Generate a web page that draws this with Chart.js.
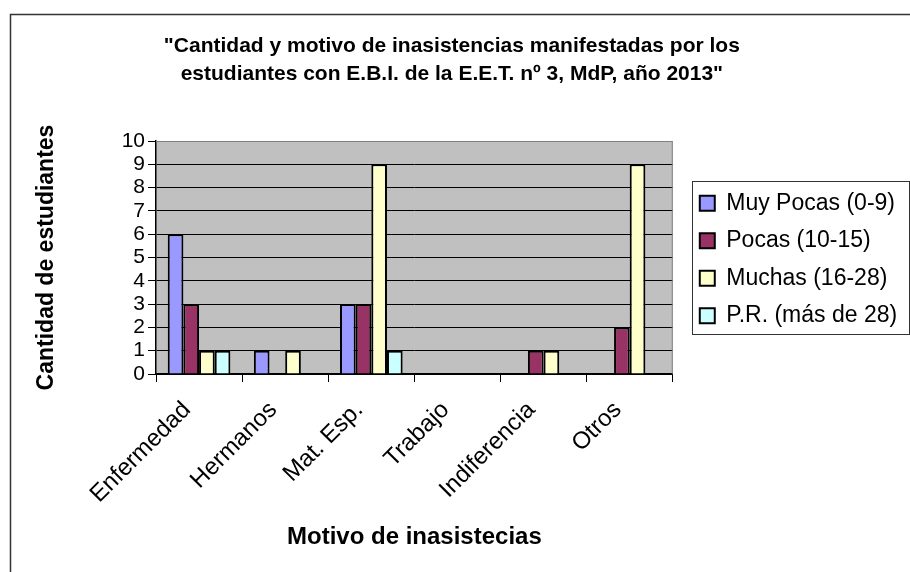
<!DOCTYPE html>
<html>
<head>
<meta charset="utf-8">
<script src="https://cdn.jsdelivr.net/npm/chart.js@4.4.1/dist/chart.umd.min.js"></script>
<style>
  body { margin: 0; background: #fff; }
  canvas { display: block; }
</style>
</head>
<body>
<canvas id="bar-chart" width="910" height="572"></canvas>
<script>
// Motivos (categorias del eje X)
const motivos = ['Enfermedad', 'Hermanos', 'Mat. Esp.', 'Trabajo', 'Indiferencia', 'Otros'];

// Cantidad de estudiantes por grupo de inasistencias
const muyPocas = [6, 1, 3, 0, 0, 0];
const pocas = [3, 0, 3, 0, 1, 2];
const muchas = [1, 1, 9, 0, 1, 9];
const pr = [1, 0, 1, 0, 0, 0];

const seriesNames = ['Muy Pocas (0-9)', 'Pocas (10-15)', 'Muchas (16-28)', 'P.R. (más de 28)'];
const seriesColors = ['#9999FF', '#993366', '#FFFFCC', '#CCFFFF'];

const chartTitle = ['"Cantidad y motivo de inasistencias manifestadas por los', 'estudiantes con E.B.I. de la E.E.T. nº 3, MdP, año 2013"'];
const yTitle = 'Cantidad de estudiantes';
const xTitle = 'Motivo de inasistecias';

const fontFamily = '"Liberation Sans", Arial, sans-serif';
const legendPad = 14.5;
const legendShift = 12.5;

// Fondo gris del area de trazado, borde del grafico y recuadro de la leyenda
const excelLook = {
    id: 'excelLook',
    beforeDraw(chart) {
        const ctx = chart.ctx;
        const a = chart.chartArea;
        ctx.save();
        ctx.fillStyle = '#C0C0C0';
        ctx.fillRect(a.left, a.top, a.right - a.left, a.bottom - a.top);
        ctx.strokeStyle = '#333';
        ctx.lineWidth = 1.5;
        ctx.strokeRect(10.5, 14.5, 1000, 1000);
        ctx.restore();
    },
    afterLayout(chart) {
        // La leyenda de Excel queda al lado del area de trazado, con un hueco
        const a = chart.chartArea;
        chart.legend.left += legendShift;
        chart.legend.right += legendShift;
        chart.legend.top = a.top + 4;
        chart.legend.bottom = a.bottom;
    },
    afterDatasetsDraw(chart) {
        const ctx = chart.ctx;
        const a = chart.chartArea;
        ctx.save();
        ctx.strokeStyle = '#808080';
        ctx.lineWidth = 1;
        ctx.beginPath();
        ctx.moveTo(a.left, a.top + 0.5);
        ctx.lineTo(a.right - 0.5, a.top + 0.5);
        ctx.lineTo(a.right - 0.5, a.bottom);
        ctx.stroke();
        ctx.restore();
    },
    afterDraw(chart) {
        const ctx = chart.ctx;
        const a = chart.chartArea;
        const mid = (a.top + a.bottom) / 2;
        const x0 = Math.round(chart.legend.left + legendPad - 8);
        ctx.save();
        ctx.strokeStyle = '#333';
        ctx.lineWidth = 1;
        ctx.strokeRect(x0 + 0.5, Math.round(mid - 76.5) + 0.5, 909 - x0, 153);
        ctx.restore();
    }
};

const datasets = [muyPocas, pocas, muchas, pr].map((values, i) => ({
    label: seriesNames[i],
    data: values,
    backgroundColor: seriesColors[i],
    borderColor: '#000',
    borderWidth: (c) => (c.raw === 0 ? 0 : 2),
    categoryPercentage: 4 / 5.5,
    barPercentage: 1
}));

new Chart(document.getElementById('bar-chart'), {
    type: 'bar',
    data: { labels: motivos, datasets: datasets },
    plugins: [excelLook],
    options: {
        responsive: false,
        animation: false,
        layout: { padding: { left: 10, right: 16.3, top: 0, bottom: 0 } },
        plugins: {
            tooltip: { enabled: false },
            title: {
                display: true,
                text: chartTitle,
                color: '#000',
                font: { family: fontFamily, size: 21, weight: 'bold', lineHeight: 28 / 21 },
                padding: { top: 32, bottom: 53 }
            },
            legend: {
                position: 'right',
                labels: {
                    color: '#000',
                    font: { family: fontFamily, size: 23 },
                    boxWidth: 15,
                    boxHeight: 15,
                    padding: legendPad
                }
            }
        },
        scales: {
            x: {
                afterFit: (scale) => { scale.height = 198; },
                grid: { display: true, drawOnChartArea: false, offset: true, color: '#000', tickLength: 8 },
                border: { color: '#000', width: 1.5 },
                ticks: {
                    color: '#000',
                    autoSkip: false,
                    minRotation: 45,
                    maxRotation: 45,
                    padding: 14,
                    labelOffset: -12,
                    font: { family: fontFamily, size: 24 }
                },
                title: {
                    display: true,
                    text: xTitle,
                    color: '#000',
                    font: { family: fontFamily, size: 24, weight: 'bold' },
                    padding: { top: 0, bottom: 20 }
                }
            },
            y: {
                min: 0,
                max: 10,
                afterFit: (scale) => { scale.width = 146; },
                grid: {
                    color: (c) => (c.tick && c.tick.value === 10 ? '#808080' : '#000'),
                    tickColor: '#000',
                    tickLength: 8
                },
                border: { color: '#000', width: 1.5 },
                ticks: {
                    stepSize: 1,
                    autoSkip: false,
                    color: '#000',
                    padding: 3,
                    font: { family: fontFamily, size: 21 }
                },
                title: {
                    display: true,
                    text: yTitle,
                    color: '#000',
                    font: { family: fontFamily, size: 23, weight: 'bold' },
                    padding: { top: 23, bottom: 0 }
                }
            }
        }
    }
});
</script>
</body>
</html>
